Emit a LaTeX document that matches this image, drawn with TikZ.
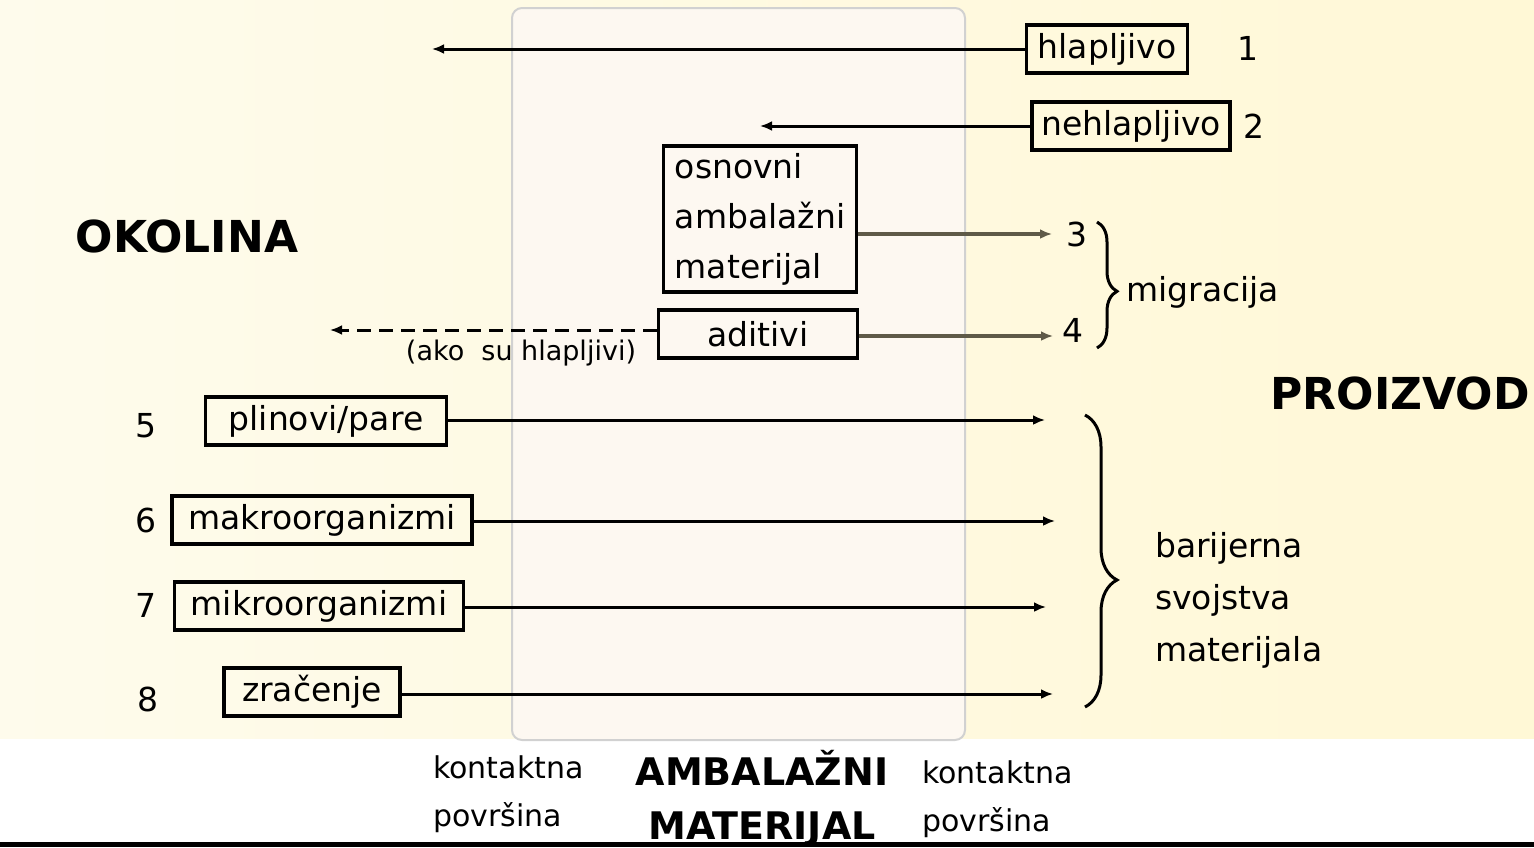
\documentclass[tikz,border=0pt]{standalone}
\usepackage{fontspec}
\setmainfont{DejaVu Sans}
\usetikzlibrary{arrows.meta,positioning,decorations.pathreplacing}
\definecolor{creaml}{RGB}{254,251,236}
\definecolor{creamr}{RGB}{255,248,214}
\definecolor{band}{RGB}{253,248,241}
\definecolor{olive}{RGB}{95,90,72}

\begin{document}
\begin{tikzpicture}[x=1pt,y=-1pt,
  box/.style={draw,line width=3.2pt,minimum height=48pt,inner sep=6pt,font=\fontsize{33}{50}\selectfont},
  lbl/.style={font=\fontsize{33}{52}\selectfont,inner sep=0pt,align=left},
  small/.style={font=\fontsize{30}{48}\selectfont,inner sep=0pt,align=left},
  big/.style={font=\fontsize{44}{54}\selectfont\bfseries,inner sep=0pt},
  arrow/.style={-{Latex[length=12pt,width=10pt]},line width=3pt},
  migr/.style={-{Latex[length=12pt,width=10pt]},line width=4.5pt,olive},
  brc/.style={decorate,line width=3pt}
]
  % background
  \useasboundingbox (0,0) rectangle (1534,847);
  \shade[left color=creaml,right color=creamr] (0,0) rectangle (1534,738);
  \draw[fill=band,draw=black!18,line width=2pt,rounded corners=10pt] (512,8) rectangle (965,740);
  \fill (0,842) rectangle (1534,847);

  % sources on the product side
  \node[box,minimum width=161pt] (hl)  at (1107,49)  {hlapljivo};
  \node[lbl] (n1) at (1248,48) {1};
  \node[box,minimum width=198pt] (nhl) at (1131,126) {nehlapljivo};
  \node[lbl,right=12pt of nhl] (n2) {2};
  \node[box,minimum width=193pt,minimum height=146pt,align=left] (osn) at (760,219) {osnovni\\ambalažni\\materijal};
  \node[box,minimum width=199pt] (adi) at (758,334) {aditivi};

  % sources on the environment side
  \node[box,minimum width=241pt] (pl)  at (326,421) {plinovi/pare};
  \node[box,minimum width=300pt] (mak) at (322,520) {makroorganizmi};
  \node[box,minimum width=289pt] (mik) at (319,606) {mikroorganizmi};
  \node[box,minimum width=176pt] (zr)  at (312,692) {zračenje};
  \node[lbl] (n5) at (146,426) {5};
  \node[lbl] (n6) at (146,520) {6};
  \node[lbl] (n7) at (146,605) {7};
  \node[lbl] (n8) at (148,699) {8};

  % arrow ends
  \coordinate (e1) at (432,49);
  \coordinate (e2) at (760,126);
  \coordinate (e3) at (1052,234);
  \coordinate (e4) at (1053,336);
  \coordinate (ed) at (330,330);
  \coordinate (e5) at (1045,420);
  \coordinate (e6) at (1055,521);
  \coordinate (e7) at (1046,607);
  \coordinate (e8) at (1053,694);

  \draw[arrow] (hl) -- (e1);
  \draw[arrow] (nhl) -- (e2);
  \draw[migr] (osn.east |- e3) -- (e3);
  \draw[migr] (adi.east |- e4) -- (e4);
  \draw[arrow,dash pattern=on 14pt off 8pt] (adi.west |- ed) -- (ed);
  \draw[arrow] (pl.east |- e5) -- (e5);
  \draw[arrow] (mak.east |- e6) -- (e6);
  \draw[arrow] (mik.east |- e7) -- (e7);
  \draw[arrow] (zr.east |- e8) -- (e8);

  \node[lbl,right=14pt of e3] (n3) {3};
  \node[lbl] (n4) at (1073,330) {4};
  \node[font=\fontsize{27}{30}\selectfont,inner sep=0pt] (hint) at (521,353) {(ako\ \ su hlapljivi)};

  % braces
  \draw[brc,decoration={brace,amplitude=20pt,aspect=0.55}] (1097,222) -- (1097,348);
  \node[lbl,anchor=west] (mig) at (1126,292) {migracija};
  \draw[brc,decoration={brace,amplitude=32pt,aspect=0.565}] (1085,415) -- (1085,707);
  \node[lbl,anchor=west] (bar) at (1155,600) {barijerna\\svojstva\\materijala};

  % region names
  \node[big] (okol) at (187,236) {OKOLINA};
  \node[big] (proiz) at (1400,393) {PROIZVOD};
  \node[small,anchor=west] (kl) at (433,794) {kontaktna\\površina};
  \node[small,anchor=west] (kr) at (922,799) {kontaktna\\površina};
  \node[font=\fontsize{38}{54}\selectfont\bfseries,inner sep=0pt,align=center] (amb) at (762,799) {AMBALAŽNI\\MATERIJAL};
\end{tikzpicture}
\end{document}
